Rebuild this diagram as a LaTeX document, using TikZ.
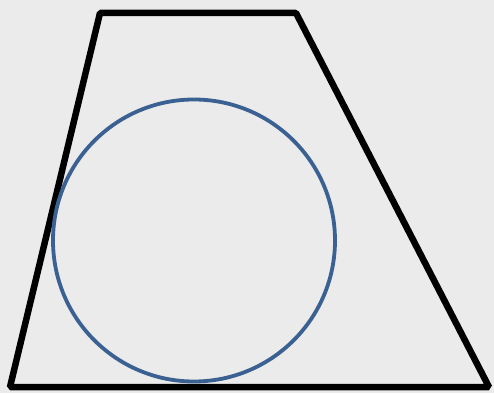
\documentclass[tikz,border=0pt]{standalone}
\definecolor{bgc}{HTML}{EBEBEB}
\definecolor{circc}{HTML}{3B6193}
\tikzset{
  trap/.style={draw=black, line width=6.5pt, line join=bevel},
  ring/.style={draw=circc, line width=3.8pt}
}
\begin{document}
\begin{tikzpicture}[x=1pt,y=-1pt]
\fill[bgc] (0,0) rectangle (494,393);
\useasboundingbox (0,0) rectangle (494,393);
\coordinate (tl) at (100,13);
\coordinate (tr) at (296,13);
\coordinate (br) at (489,387);
\coordinate (bl) at (10,387);
\draw[trap] (tl) -- (tr) -- (br) -- (bl) -- cycle;
\coordinate (c) at (194,240.5);
\draw[ring] (c) circle[radius=141];
\end{tikzpicture}
\end{document}
